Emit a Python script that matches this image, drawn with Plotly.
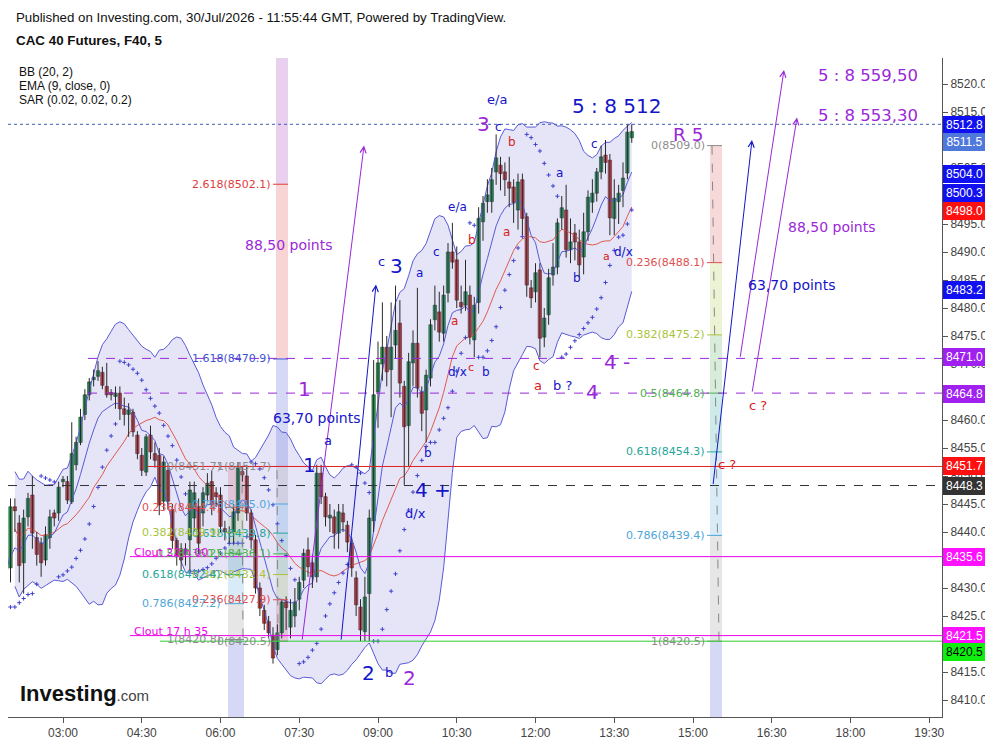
import plotly.graph_objects as go
import pandas as pd
import numpy as np
from datetime import datetime, timedelta

# ---- CAC 40 Futures (F40), 5 min bars, 30/Jul/2026, first bar 01:55 ----
start = "2026-07-30 01:55"
opens = [8435.5, 8433.6, 8444.5, 8441.6, 8434.5, 8442.7, 8446.6, 8439.0, 8438.0, 8435.0,
         8439.0, 8443.4, 8443.4, 8449.0, 8449.0, 8445.4, 8452.0, 8456.0, 8461.0, 8464.5,
         8467.2, 8467.8, 8468.5, 8466.0, 8464.9, 8464.2, 8464.8, 8462.0, 8461.0, 8461.4,
         8457.3, 8453.7, 8450.7, 8457.3, 8454.0, 8453.7, 8445.5, 8451.0, 8444.0, 8438.5,
         8437.0, 8436.0, 8438.6, 8442.5, 8444.5, 8443.4, 8446.6, 8449.0, 8447.0, 8446.6,
         8440.6, 8440.0, 8440.0, 8443.4, 8450.8, 8450.0, 8443.4, 8438.6, 8430.0, 8426.0,
         8424.0, 8421.6, 8419.0, 8422.0, 8427.5, 8423.0, 8425.0, 8428.0, 8431.4, 8436.8,
         8434.5, 8432.0, 8450.5, 8446.3, 8442.5, 8442.7, 8439.8, 8443.4, 8441.2, 8438.0,
         8431.8, 8426.6, 8422.2, 8429.0, 8442.0, 8465.0, 8470.0, 8473.0, 8469.0, 8473.4,
         8477.3, 8466.0, 8459.0, 8470.2, 8473.7, 8465.0, 8461.8, 8467.5, 8477.9, 8479.3,
         8475.5, 8482.7, 8490.0, 8488.6, 8481.0, 8480.5, 8482.3, 8474.3, 8481.0, 8495.4,
         8499.0, 8499.0, 8504.3, 8505.5, 8504.3, 8502.5, 8501.6, 8497.5, 8502.9, 8496.3,
         8483.6, 8482.9, 8486.8, 8474.8, 8478.8, 8485.9, 8487.3, 8496.1, 8497.5, 8490.4,
         8493.4, 8491.8, 8489.1, 8493.6, 8498.9, 8500.5, 8504.3, 8507.3, 8506.4, 8496.0,
         8499.0, 8501.0, 8504.1, 8510.4]
highs = [8437.0, 8446.0, 8446.0, 8443.0, 8444.0, 8447.0, 8450.0, 8440.0, 8439.0, 8441.0,
         8444.0, 8444.0, 8449.0, 8450.0, 8450.0, 8459.6, 8457.0, 8462.0, 8465.5, 8467.5,
         8469.0, 8470.5, 8469.5, 8470.2, 8465.5, 8466.0, 8466.0, 8464.0, 8463.0, 8462.0,
         8458.0, 8455.0, 8457.5, 8459.0, 8456.0, 8455.0, 8453.5, 8452.0, 8445.0, 8439.0,
         8438.0, 8438.0, 8449.0, 8449.0, 8446.0, 8448.0, 8450.5, 8451.0, 8448.0, 8448.0,
         8442.0, 8441.0, 8445.0, 8452.5, 8451.8, 8452.0, 8444.0, 8439.5, 8431.0, 8427.0,
         8425.0, 8423.0, 8423.5, 8428.0, 8428.5, 8428.0, 8430.0, 8432.0, 8437.0, 8439.0,
         8436.0, 8452.0, 8452.0, 8447.0, 8445.0, 8444.0, 8445.0, 8445.0, 8442.0, 8439.0,
         8433.0, 8428.0, 8432.0, 8444.0, 8470.7, 8474.0, 8481.0, 8475.0, 8481.0, 8484.0,
         8481.4, 8467.0, 8472.0, 8476.0, 8483.6, 8466.0, 8469.0, 8478.0, 8484.0, 8482.9,
         8484.0, 8491.6, 8495.2, 8491.0, 8484.0, 8488.6, 8484.0, 8482.0, 8498.0, 8500.0,
         8503.0, 8505.0, 8511.0, 8507.0, 8506.0, 8507.0, 8503.0, 8504.0, 8504.0, 8497.0,
         8485.0, 8488.0, 8488.0, 8480.0, 8487.0, 8491.6, 8496.0, 8500.0, 8502.0, 8496.0,
         8495.0, 8494.0, 8497.0, 8501.0, 8503.0, 8505.0, 8509.0, 8510.0, 8507.5, 8503.0,
         8502.0, 8506.0, 8512.8, 8512.8]
lows = [8426.6, 8431.0, 8440.0, 8431.0, 8429.0, 8441.0, 8437.0, 8434.0, 8432.0, 8434.0,
        8437.0, 8441.0, 8442.0, 8448.0, 8445.0, 8445.0, 8451.0, 8455.5, 8460.0, 8463.5,
        8466.0, 8467.0, 8465.5, 8464.0, 8463.5, 8462.0, 8460.0, 8459.0, 8457.0, 8457.0,
        8453.0, 8450.0, 8450.0, 8453.0, 8451.5, 8443.0, 8444.0, 8444.0, 8437.0, 8434.0,
        8433.0, 8434.0, 8433.0, 8440.0, 8436.0, 8441.0, 8445.5, 8443.0, 8444.5, 8440.0,
        8438.5, 8438.0, 8438.0, 8442.0, 8449.0, 8442.0, 8437.0, 8429.0, 8425.0, 8422.5,
        8421.0, 8416.5, 8418.0, 8421.0, 8422.5, 8421.0, 8423.0, 8426.0, 8430.0, 8432.0,
        8430.0, 8431.0, 8445.0, 8441.0, 8440.0, 8437.0, 8437.0, 8440.0, 8436.4, 8432.0,
        8425.0, 8420.5, 8420.5, 8420.5, 8440.0, 8458.6, 8467.0, 8466.0, 8460.5, 8471.0,
        8464.0, 8448.4, 8451.6, 8466.0, 8464.0, 8458.0, 8456.0, 8466.0, 8476.0, 8474.0,
        8474.0, 8481.0, 8487.0, 8480.0, 8479.0, 8479.5, 8473.5, 8471.2, 8479.0, 8492.0,
        8497.0, 8497.0, 8502.0, 8501.0, 8500.0, 8498.0, 8495.2, 8494.0, 8493.0, 8482.0,
        8480.0, 8481.0, 8471.2, 8473.0, 8477.0, 8484.0, 8486.0, 8494.0, 8489.0, 8488.0,
        8488.5, 8485.5, 8486.0, 8492.0, 8497.0, 8499.0, 8503.0, 8504.0, 8493.0, 8493.0,
        8495.0, 8498.0, 8503.0, 8509.5]
closes = [8433.3, 8444.5, 8443.8, 8434.0, 8442.5, 8446.0, 8439.8, 8436.0, 8434.5, 8439.5,
          8442.7, 8442.5, 8448.0, 8449.4, 8445.7, 8454.0, 8456.0, 8460.5, 8464.5, 8466.8,
          8467.6, 8468.8, 8466.2, 8464.5, 8464.5, 8464.8, 8462.0, 8461.0, 8461.8, 8457.9,
          8454.0, 8451.0, 8457.0, 8454.3, 8452.8, 8444.8, 8452.5, 8445.5, 8438.5, 8436.0,
          8435.0, 8437.0, 8447.5, 8447.0, 8438.0, 8447.0, 8448.7, 8445.0, 8446.3, 8441.0,
          8440.0, 8439.8, 8443.6, 8451.4, 8450.2, 8443.4, 8438.6, 8430.0, 8426.4, 8423.7,
          8422.0, 8417.5, 8422.0, 8427.5, 8426.5, 8426.0, 8427.5, 8431.0, 8436.2, 8433.8,
          8432.0, 8450.5, 8446.3, 8442.7, 8443.0, 8439.8, 8443.6, 8441.8, 8438.2, 8433.6,
          8427.0, 8422.5, 8428.4, 8442.5, 8464.5, 8470.2, 8473.0, 8468.6, 8473.0, 8476.0,
          8466.6, 8458.8, 8470.4, 8473.7, 8465.7, 8461.2, 8468.0, 8477.0, 8480.5, 8475.7,
          8482.3, 8490.0, 8488.2, 8481.4, 8480.2, 8482.9, 8474.8, 8480.5, 8496.0, 8498.7,
          8500.2, 8502.9, 8506.8, 8504.0, 8502.9, 8501.4, 8498.8, 8502.5, 8496.0, 8484.1,
          8481.8, 8486.3, 8474.6, 8478.2, 8485.4, 8487.3, 8495.2, 8497.9, 8490.4, 8491.8,
          8491.8, 8487.7, 8493.6, 8499.8, 8500.5, 8504.3, 8507.0, 8506.0, 8496.1, 8499.6,
          8500.5, 8503.2, 8511.4, 8511.5]

times = pd.date_range(start, periods=len(opens), freq="5min")

# horizontal levels drawn on the chart (price, colour, dash, start px)
hlines = [(8512.8, "#3f5fb5", "dot", 8), (8471.0, "#9a28d8", "dash", 88),
          (8464.8, "#9a28d8", "dash", 88), (8451.7, "#e02020", "solid", 148),
          (8448.3, "#333333", "dash", 8), (8435.6, "#ee00ee", "solid", 130),
          (8421.5, "#ee00ee", "solid", 130), (8420.5, "#33cc33", "solid", 160)]

# right axis price tags (value, box colour, text colour, box centre px)
tags = [("8512.8", "#1010f0", "white", 125), ("8511.5", "#4f78dd", "white", 142),
        ("8504.0", "#1010f0", "white", 174), ("8500.3", "#1010f0", "white", 193),
        ("8498.0", "#ff1010", "white", 211), ("8483.2", "#1010f0", "white", 290),
        ("8471.0", "#a020f0", "white", 357), ("8464.8", "#a020f0", "white", 394),
        ("8451.7", "#ff1010", "white", 466), ("8448.3", "#333333", "white", 486),
        ("8435.6", "#ff10ff", "white", 557), ("8421.5", "#ff10ff", "white", 636),
        ("8420.5", "#10ee10", "black", 652)]

# fibonacci retracements: (level, price)
fib_a = [(0, 8420.5), (0.236, 8427.9), (0.382, 8432.4), (0.5, 8436.1), (0.618, 8439.8),
         (0.786, 8445.0), (1, 8451.7), (1.618, 8470.9), (2.618, 8502.1), (3.618, 8533.3)]
fib_b = [(0, 8451.7), (0.236, 8444.4), (0.382, 8439.9), (0.5, 8436.2), (0.618, 8432.4),
         (0.786, 8427.2), (1, 8420.8), (1.618, 8401.7)]
fib_r = [(0, 8509.0), (0.236, 8488.1), (0.382, 8475.2), (0.5, 8464.8), (0.618, 8454.3),
         (0.786, 8439.4), (1, 8420.5), (1.618, 8365.8)]
fib_colors = {0: "#8c8c8c", 0.236: "#e05050", 0.382: "#a9c43c", 0.5: "#4caf50",
              0.618: "#26a69a", 0.786: "#4ea5d9", 1: "#8c8c8c", 1.618: "#3f51d5",
              2.618: "#e03c3c", 3.618: "#9c27b0"}

BLUE = "#1414c8"
PURPLE = "#9a28d8"
RED = "#d92020"

# pixel -> data helpers (reference plot area 8..942 x 58..717)
BASE = datetime(2026, 7, 30, 3, 0)


def T(x):
    return (BASE + timedelta(minutes=(x - 63) / 0.875)).strftime("%Y-%m-%d %H:%M:%S")


def P(y):
    return 8520 - (y - 84) / 5.6


def paper(x, y):
    return (x - 8) / 934, (717 - y) / 659


# ---- indicators ----
c = pd.Series(closes)
basis = c.rolling(20, min_periods=3).mean()
dev = c.rolling(20, min_periods=3).std(ddof=0)
upper = basis + 2 * dev
lower = basis - 2 * dev
ema = c.ewm(span=9, adjust=False).mean()


def psar(high, low, af0=0.02, step=0.02, afmax=0.2):
    n = len(high)
    out = [np.nan] * n
    up = high[1] > high[0]
    ep = high[0] if up else low[0]
    s = low[0] if up else high[0]
    af = af0
    out[0] = s
    for i in range(1, n):
        s = s + af * (ep - s)
        if up:
            s = min(s, low[i - 1], low[max(i - 2, 0)])
            if low[i] < s:
                up, s, ep, af = False, ep, low[i], af0
            elif high[i] > ep:
                ep, af = high[i], min(af + step, afmax)
        else:
            s = max(s, high[i - 1], high[max(i - 2, 0)])
            if high[i] > s:
                up, s, ep, af = True, ep, high[i], af0
            elif low[i] < ep:
                ep, af = low[i], min(af + step, afmax)
        out[i] = s
    return out


sar = psar(highs, lows)

fig = go.Figure()
fig.add_trace(go.Scatter(x=times, y=lower, mode="lines", line=dict(color="#5a5ad8", width=1),
                         hoverinfo="skip"))
fig.add_trace(go.Scatter(x=times, y=upper, mode="lines", line=dict(color="#5a5ad8", width=1),
                         fill="tonexty", fillcolor="rgba(100,100,210,0.17)", hoverinfo="skip"))
fig.add_trace(go.Scatter(x=times, y=basis, mode="lines", line=dict(color="#e05a50", width=1)))
fig.add_trace(go.Scatter(x=times, y=ema, mode="lines", line=dict(color="#5a5ad8", width=1)))
fig.add_trace(go.Scatter(x=times, y=sar, mode="markers",
                         marker=dict(symbol="cross-thin", size=3,
                                     line=dict(color="#4040d0", width=1))))

# candles: wicks as one line trace, bodies as bars (lets the body width match)
wx, wy = [], []
for t, h, l in zip(times, highs, lows):
    wx += [t, t, None]
    wy += [l, h, None]
fig.add_trace(go.Scatter(x=wx, y=wy, mode="lines", line=dict(color="#2a2a2a", width=1),
                         hoverinfo="skip"))
up_idx = [i for i in range(len(opens)) if closes[i] >= opens[i]]
dn_idx = [i for i in range(len(opens)) if closes[i] < opens[i]]
for idx, fill, edge in [(up_idx, "#22a352", "#1d3a22"), (dn_idx, "#e8443a", "#4a1c18")]:
    fig.add_trace(go.Bar(x=[times[i] for i in idx],
                         y=[abs(closes[i] - opens[i]) for i in idx],
                         base=[min(opens[i], closes[i]) for i in idx],
                         width=230000, marker=dict(color=fill, line=dict(color=edge, width=0.6))))

shapes = []
annotations = []

# fib columns
for fib, xa, xb, lab_x, dash_pts in [(fib_a, 276, 288, 273, (278, 277)),
                                     (fib_b, 228, 244, 223, (242, 243)),
                                     (fib_r, 710, 722, 707, (712, 719))]:
    for (l0, p0), (l1, p1) in zip(fib[:-1], fib[1:]):
        col = fib_colors[l1].lstrip("#")
        r, g, b = int(col[0:2], 16), int(col[2:4], 16), int(col[4:6], 16)
        shapes.append(dict(type="rect", xref="x", yref="y", x0=T(xa), x1=T(xb), y0=p0, y1=p1,
                           fillcolor=f"rgba({r},{g},{b},0.22)", line=dict(width=0), layer="below"))
    for lvl, pr in fib:
        if not 8407 < pr < 8524:
            continue
        shapes.append(dict(type="line", xref="x", yref="y", x0=T(xa - 3), x1=T(xb), y0=pr, y1=pr,
                           line=dict(color=fib_colors[lvl], width=1)))
        annotations.append(dict(x=T(lab_x), y=pr, xref="x", yref="y", xanchor="right",
                                yanchor="middle", showarrow=False, text=f"{lvl:g}({pr:.1f})",
                                font=dict(family="DejaVu Sans", size=11, color=fib_colors[lvl])))
    shapes.append(dict(type="line", xref="x", yref="y", x0=T(dash_pts[0]), x1=T(dash_pts[1]),
                       y0=fib[0][1], y1=[p for l, p in fib if l == 1][0],
                       line=dict(color="#888888", width=1, dash="dash")))

# horizontal levels
for price, color, dash, x_start in hlines:
    shapes.append(dict(type="line", xref="x", yref="y", x0=T(x_start), x1=T(942), y0=price,
                       y1=price, line=dict(color=color, width=1, dash=dash)))

# clout labels
for text, ypx in [("Clout 22 h 00", 552), ("Clout 17 h 35", 631)]:
    annotations.append(dict(x=T(132), y=P(ypx), xref="x", yref="y", xanchor="left",
                            showarrow=False, text=text,
                            font=dict(family="DejaVu Sans", size=11, color="#ee00ee")))

# arrows (tail px, tail price, head px, head price, colour)
arrows = [(302, 8420.5, 364, 8509.0, PURPLE), (341, 8420.5, 376, 8484.2, BLUE),
          (713, 8448.3, 752, 8510.0, BLUE), (740, 8471.0, 784, 8522.5, PURPLE),
          (752, 8464.8, 797, 8514.0, PURPLE)]
for x0, p0, x1, p1, col in arrows:
    annotations.append(dict(x=T(x1), y=p1, ax=T(x0), ay=p0, xref="x", yref="y",
                            axref="x", ayref="y", text="", showarrow=True, arrowhead=5,
                            arrowsize=1.2, arrowwidth=1, arrowcolor=col, standoff=0))

# wave labels (text, x px, y px, colour, size)
labels = [("e/a", 497, 99, BLUE, 13), ("3", 483, 124, PURPLE, 20), ("c", 498, 127, BLUE, 12),
          ("5 : 8 512", 616, 106, BLUE, 20), ("R 5", 688, 134, PURPLE, 18.5),
          ("5 : 8 559,50", 868, 75, PURPLE, 16.5), ("5 : 8 553,30", 868, 115, PURPLE, 16.5),
          ("b", 512, 142, RED, 12), ("c", 594, 144, BLUE, 12), ("a", 559, 173, BLUE, 12),
          ("e/a", 457, 207, BLUE, 12), ("b", 472, 240, RED, 12), ("a", 506, 232, RED, 12),
          ("c", 436, 252, BLUE, 12), ("c", 381, 261, BLUE, 13), ("3", 397, 266, BLUE, 20),
          ("a", 419, 273, BLUE, 12), ("88,50 points", 289, 245, PURPLE, 14),
          ("88,50 points", 832, 227, PURPLE, 14), ("a", 607, 256, RED, 11),
          ("d/x", 623, 252, BLUE, 12), ("63,70 points", 792, 285, BLUE, 14),
          ("b", 577, 278, BLUE, 12), ("a", 454, 321, RED, 12), ("d/x", 457, 372, BLUE, 12),
          ("c", 471, 367, RED, 11), ("b", 486, 372, BLUE, 12), ("c", 537, 366, RED, 12),
          ("4 -", 617, 362, PURPLE, 20), ("a", 538, 385, RED, 13), ("b ?", 562, 385, BLUE, 13),
          ("4", 593, 392, PURPLE, 20), ("1", 304, 389, PURPLE, 20), ("c ?", 758, 405, RED, 13),
          ("63,70 points", 317, 418, BLUE, 14), ("a", 328, 440, BLUE, 13),
          ("b", 428, 453, BLUE, 12), ("c ?", 727, 464, RED, 13), ("1", 309, 465, BLUE, 20),
          ("4 +", 433, 490, BLUE, 20), ("d/x", 415, 513, BLUE, 13), ("2", 369, 673, BLUE, 20),
          ("b", 389, 672, BLUE, 13), ("2", 409, 678, PURPLE, 20)]
for text, x, y, col, size in labels:
    annotations.append(dict(x=T(x), y=P(y), xref="x", yref="y", showarrow=False, text=text,
                            font=dict(family="DejaVu Sans", size=size, color=col)))

# price tags on the axis
for text, bg, fg, ypx in tags:
    annotations.append(dict(x=1, y=P(ypx), xref="paper", yref="y", xanchor="left", xshift=1,
                            showarrow=False, text=text, bgcolor=bg, bordercolor=bg,
                            borderpad=1, width=39, align="center",
                            font=dict(family="Liberation Sans", size=12, color=fg)))

# header and indicator legend
for text, x, y, size, bold in [
        ("Published on Investing.com, 30/Jul/2026 - 11:55:44 GMT, Powered by TradingView.", 14, 17, 13.3, False),
        ("CAC 40 Futures, F40, 5", 14, 40, 13.4, True),
        ("BB (20, 2)", 17, 72, 12, False), ("EMA (9, close, 0)", 17, 86, 12, False),
        ("SAR (0.02, 0.02, 0.2)", 17, 100, 12, False)]:
    px_, py_ = paper(x, y)
    annotations.append(dict(x=px_, y=py_, xref="paper", yref="paper", xanchor="left",
                            yanchor="middle", showarrow=False,
                            text=f"<b>{text}</b>" if bold else text,
                            font=dict(family="Liberation Sans", size=size, color="#111111")))

lx, ly = paper(18, 693)
annotations.append(dict(x=lx, y=ly, xref="paper", yref="paper", xanchor="left",
                        yanchor="middle", showarrow=False,
                        text="<b>Investing</b><span style='font-size:15px;color:#444'>.com</span>",
                        font=dict(family="Liberation Sans", size=22, color="#111111")))

# the page puts the figure 8px in from the top-left corner, so the figure is 8px smaller
fig.update_layout(
    width=985, height=733,
    margin=dict(l=0, r=51, t=50, b=24),
    paper_bgcolor="white", plot_bgcolor="white",
    showlegend=False, barmode="overlay",
    shapes=shapes, annotations=annotations,
    xaxis=dict(range=[T(8), T(942)], showgrid=False,
               zeroline=False, showline=True, linecolor="#555555", ticks="outside",
               ticklen=5, tickcolor="#555555", tick0="2026-07-30 03:00", dtick=5400000,
               tickformat="%H:%M", tickfont=dict(family="Liberation Sans", size=12, color="#444444")),
    yaxis=dict(range=[P(717), P(58)], side="right", showgrid=False, zeroline=False,
               showline=True, linecolor="#555555", ticks="outside", ticklen=5,
               tickcolor="#555555", dtick=5, tickformat=".1f",
               tickfont=dict(family="Liberation Sans", size=12, color="#444444")),
)

fig.write_html("out.html")
